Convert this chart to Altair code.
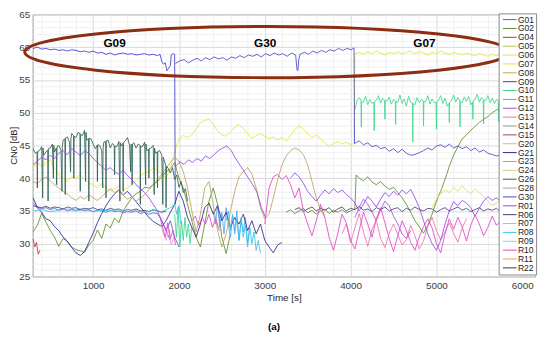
import altair as alt
import pandas as pd

# ---------------- legend order and colours ----------------
NAMES = ["G01", "G02", "G04", "G05", "G06", "G07", "G08", "G09", "G10", "G11",
         "G12", "G13", "G14", "G15", "G20", "G21", "G23", "G24", "G26", "G28",
         "G30", "R01", "R06", "R07", "R08", "R09", "R10", "R11", "R22"]
COLORS = ["#6a5acd", "#5b8c2a", "#b03a48", "#a8c84a", "#d4e06a", "#e6e632", "#c9a64f", "#3a3ad0", "#3ad88c", "#5aa0f0",
          "#a855d8", "#f070b0", "#7f9f7f", "#8a4a7a", "#c0c0a0", "#28288e", "#bca060", "#d8c888", "#2e5f52", "#a0a0a0",
          "#4848c8", "#9446ea", "#4a3a70", "#e0a0d0", "#34c4ea", "#7fe0d8", "#e044c4", "#e8a048", "#383850"]

# ---------------- series values ----------------
G09_V1 = [59.8, 60.0, 59.7, 59.8, 59.6, 59.7, 59.5, 59.6, 59.4, 59.6, 59.5, 59.3, 59.4, 59.2, 59.4, 59.1,
          59.2, 58.9, 59.1, 58.8, 59.0, 59.1, 58.9, 59.0, 58.8, 58.9, 59.0, 58.8, 58.9, 58.7]
G09_T2 = [1780, 1800, 1820, 1840, 1860, 1880, 1900, 1910, 1930, 1950, 1957]
G09_V2 = [58.9, 57.8, 57.4, 57.6, 56.4, 56.8, 57.2, 58.8, 59.0, 58.9, 36.0]

G30_V1 = [57.5, 57.9, 58.1, 57.6, 58.0, 58.3, 57.9, 58.4, 58.1, 58.5, 58.2, 58.4, 58.0, 58.5, 58.3,
          58.7, 58.4, 58.8, 58.6, 58.9, 58.5, 59.0, 58.7, 59.1, 58.8, 59.0, 58.6, 59.1, 58.8]
G30_T2 = [3375, 3385, 3395]
G30_V2 = [56.6, 56.4, 58.0]
G30_V3 = [58.9, 59.2, 58.9, 59.4, 59.1, 59.5, 59.2, 59.6, 59.4, 59.8, 59.5, 59.8, 59.6]
G30_T4 = [4040, 4046]
G30_V4 = [59.9, 45.3]
G30_V5 = [45.7, 45.1, 45.4, 44.8, 45.0, 44.5, 44.7, 44.1, 44.5, 43.9, 44.4, 43.8, 43.5, 43.6, 43.9,
          44.2, 44.6, 44.3, 44.9, 45.1, 44.7, 45.2, 44.6, 44.9, 44.5, 44.8, 44.2, 44.6, 44.0, 44.3,
          43.8, 43.6, 43.4, 43.5, 43.2, 43.6, 43.3, 43.4, 43.1, 43.5, 43.2, 43.4]

G07_V1 = [41.5, 42.5, 41.8, 42.3, 42.8, 41.5, 40.5, 40.0, 39.5, 40.2, 40.0, 40.5, 39.8, 39.3, 39.0, 38.5,
          39.2, 38.6, 38.0, 38.4, 38.8, 38.2, 38.5, 39.0, 39.6, 40.3, 40.8, 41.0, 41.5, 41.2, 40.6, 40.0,
          41.5, 44.0]
G07_V2 = [46.0, 46.5, 46.2, 46.6, 47.5, 48.5, 48.8, 49.0, 48.2, 47.2, 46.6, 46.4, 47.0, 47.8, 48.2,
          47.6, 46.8, 46.1, 46.5, 46.8, 46.4, 46.0, 46.3, 45.8, 46.2, 45.6, 46.5, 47.4, 48.0, 47.5,
          46.8, 46.2, 46.6, 46.0, 45.4, 44.9, 45.3, 45.6, 45.2, 45.5, 45.1]
G07_T3 = [4040, 4050]
G07_V3 = [45.3, 59.0]
G07_V4 = [59.2, 58.9, 59.3, 59.0, 59.4, 59.1, 58.8, 59.2, 59.0, 59.3, 58.9, 59.2, 59.4, 59.0, 59.3,
          59.1, 58.8, 59.2, 59.0, 59.4, 59.1, 58.9, 59.2, 59.0, 58.8, 59.1, 58.9, 58.7, 59.0, 58.8,
          58.6, 58.9, 58.7, 58.9, 58.6, 58.8, 58.5, 58.8, 58.6, 58.9, 58.7, 58.8]

G10_V1 = [34.5, 31.0, 35.5, 29.5, 33.5, 30.5, 34.0, 31.0, 33.0, 30.0, 32.5]
G10_PTS = [(4050, 50.5), (4075, 51.8), (4100, 52.3), (4121, 51.9), (4125, 47.8), (4129, 51.7), (4150, 51.6),
           (4175, 52.5), (4200, 51.2), (4225, 52.0), (4250, 51.4), (4271, 51.6), (4275, 47.2), (4279, 51.7),
           (4300, 51.9), (4325, 52.6), (4350, 51.5), (4375, 52.2), (4396, 51.9), (4400, 49.0), (4404, 51.8),
           (4425, 51.8), (4450, 52.4), (4475, 51.3), (4500, 52.0), (4521, 51.8), (4525, 48.2), (4529, 51.7),
           (4550, 51.6), (4575, 52.7), (4600, 51.4), (4625, 52.1), (4650, 51.0), (4675, 52.5), (4700, 51.6),
           (4721, 51.5), (4725, 45.5), (4729, 51.4), (4750, 51.2), (4775, 52.3), (4800, 51.5), (4825, 52.0),
           (4846, 51.8), (4850, 48.0), (4854, 51.7), (4875, 51.7), (4900, 52.6), (4925, 51.3), (4950, 52.1),
           (4975, 51.5), (4996, 51.6), (5000, 47.5), (5004, 51.7), (5025, 51.9), (5050, 52.6), (5075, 51.4),
           (5100, 52.2), (5125, 51.0), (5146, 51.4), (5150, 48.5), (5154, 51.6), (5175, 51.8), (5200, 52.7),
           (5225, 51.6), (5250, 52.3), (5271, 51.9), (5275, 47.8), (5279, 51.7), (5300, 51.5), (5325, 52.4),
           (5350, 51.7), (5375, 52.5), (5400, 51.2), (5421, 51.6), (5425, 49.0), (5429, 51.8), (5450, 52.0),
           (5475, 52.8), (5500, 51.6), (5525, 52.3), (5546, 52.0), (5550, 48.3), (5554, 51.8), (5575, 51.9),
           (5600, 52.6), (5625, 51.5), (5650, 52.2), (5675, 51.4), (5700, 52.0), (5721, 51.8), (5725, 48.6),
           (5729, 51.7), (5750, 51.8), (5775, 52.5), (5800, 51.6), (5825, 52.1), (5850, 51.3), (5875, 52.4),
           (5896, 52.0), (5900, 49.0), (5904, 51.9), (5925, 51.7), (5950, 52.3), (5975, 51.5), (6000, 52.0),
           (6025, 51.2), (6050, 52.2), (6071, 51.9), (6075, 48.5), (6079, 51.8), (6100, 51.6), (6125, 52.1),
           (6150, 51.7)]

G26_PTS = [(300, 44.5), (325, 43.8), (346, 44.0), (350, 38.5), (354, 44.1), (375, 44.2), (400, 44.8),
           (412, 37.0), (416, 44.6), (425, 43.5), (450, 44.0), (471, 44.3), (475, 36.5), (479, 44.5),
           (500, 44.6), (525, 45.2), (537, 40.0), (541, 45.0), (550, 44.0), (571, 44.6), (575, 39.0),
           (579, 44.8), (600, 45.0), (625, 44.3), (637, 38.0), (641, 44.8), (650, 45.8), (671, 46.0),
           (675, 37.5), (679, 46.1), (700, 46.3), (725, 45.5), (737, 41.0), (741, 46.0), (750, 46.8),
           (771, 46.5), (775, 40.0), (779, 46.4), (800, 46.2), (825, 47.0), (846, 46.8), (850, 38.0),
           (854, 46.7), (875, 46.5), (900, 47.3), (912, 39.5), (916, 47.0), (925, 45.8), (946, 46.0),
           (950, 36.5), (954, 46.1), (975, 46.0), (1000, 45.2), (1025, 44.5), (1046, 45.0), (1050, 39.5),
           (1054, 45.1), (1075, 45.0), (1100, 44.2), (1112, 38.5), (1116, 44.6), (1125, 45.5), (1146, 45.6),
           (1150, 37.0), (1154, 45.7), (1175, 45.8), (1200, 44.6), (1225, 45.3), (1246, 45.0), (1250, 40.5),
           (1254, 44.9), (1275, 44.8), (1300, 45.6), (1312, 36.5), (1316, 45.4), (1325, 44.9), (1346, 45.3),
           (1350, 38.0), (1354, 45.4), (1375, 45.7), (1400, 46.2), (1425, 45.0), (1437, 41.0), (1441, 45.2),
           (1450, 45.1), (1454, 39.0), (1458, 45.2), (1475, 45.4), (1500, 44.6), (1525, 45.2), (1546, 45.0),
           (1550, 36.0), (1554, 44.9), (1575, 44.8), (1600, 45.5), (1612, 39.0), (1616, 45.2), (1625, 44.2),
           (1646, 44.4), (1650, 40.0), (1654, 44.5), (1675, 44.6), (1700, 45.0), (1712, 37.5), (1716, 44.6),
           (1725, 43.8), (1746, 44.0), (1750, 38.5), (1754, 44.1), (1775, 44.2), (1800, 43.5), (1812, 36.0),
           (1816, 43.2), (1825, 42.8), (1846, 42.0), (1850, 35.5), (1854, 41.8), (1875, 41.5), (1900, 40.8),
           (1925, 41.6), (1950, 39.8), (1975, 40.5), (2000, 38.6), (2025, 39.5), (2050, 37.8), (2075, 38.4),
           (2100, 36.5)]

G02_V1 = [31.8, 32.8, 34.6, 33.3, 32.0, 31.0, 29.6, 30.8, 30.3, 29.5, 29.1, 28.9, 28.7, 29.8, 30.5,
          32.1, 30.8, 33.0, 32.4, 33.9, 33.2, 35.0, 36.0, 37.0, 37.6, 38.0, 38.6, 38.5, 39.0, 39.5,
          40.2, 41.0, 41.4, 42.4, 40.0, 38.5, 36.0, 33.5, 31.0, 29.5, 33.0, 36.5, 38.5, 36.0, 31.0,
          28.5, 31.5]
G02_V2 = [34.8, 35.2, 34.6, 35.0, 35.4, 34.7, 35.1, 34.5, 35.0, 35.3, 34.6, 35.1, 34.8, 35.2, 34.7,
          35.0, 35.3]
G02_T3 = [4065]
G02_V3 = [40.5]
G02_V4 = [40.0, 39.6, 40.2, 39.4, 39.0, 39.5, 38.8, 38.3, 38.6, 37.8, 37.0, 36.0, 34.8, 33.5, 32.6,
          31.6, 32.8, 34.5, 36.5, 38.0, 39.8, 41.8, 43.5, 44.8, 46.0, 46.6, 47.3, 47.9, 48.5, 49.0,
          49.4, 50.0, 50.4, 50.8, 51.2, 51.5, 51.8, 52.0, 52.3, 52.4, 52.6, 52.5]

G21_V = [37.0, 35.5, 34.8, 33.8, 33.5, 32.6, 32.0, 31.0, 30.4, 29.4, 28.6, 28.2, 28.8, 30.2, 31.6,
         33.2, 34.6, 35.8, 36.8, 37.6, 38.2, 37.4, 38.0, 37.2, 36.4, 35.6, 34.8, 34.0, 33.4, 33.0,
         32.6, 33.5, 34.8, 36.0, 38.0, 36.5, 34.0, 32.5, 31.0, 33.0, 35.5, 36.2, 34.5, 35.8, 33.5,
         34.8, 32.5, 34.0, 33.0, 34.5, 32.0, 33.5, 31.5, 33.0, 30.5, 29.5, 28.6, 29.8, 30.2]

R06_V1 = [35.8, 35.6, 35.5, 35.7, 35.4, 35.6, 35.5, 35.3, 35.6, 35.4, 35.5, 35.2, 35.4, 35.3, 35.5,
          35.2, 35.3, 35.1, 35.4, 35.2, 35.3, 35.0, 35.2, 35.1, 35.3, 35.0, 35.1, 34.9, 35.2, 35.0,
          34.8, 35.0]
R06_V2 = [35.2, 35.5, 34.9, 35.3, 35.6, 35.0, 35.4, 35.1, 35.5, 34.8, 35.3, 35.6, 35.0, 35.4, 35.2,
          35.7, 35.1, 35.3, 34.9, 35.5, 35.2, 35.6, 35.0, 35.3, 35.5, 34.9, 35.4, 35.1, 35.6, 35.2,
          35.0, 35.4, 35.3, 34.8, 35.2, 35.5, 35.0, 35.3, 35.6, 35.1, 35.4, 34.9, 35.2, 35.5, 35.0,
          35.3, 35.1, 35.4, 34.8, 35.2, 35.0, 35.3, 34.9, 35.1, 35.4, 35.0, 35.2]

G01_V = [36.2, 35.6, 35.3, 35.5, 35.2, 35.4, 35.1, 35.3, 35.0, 35.2, 35.1, 35.3, 35.0, 35.2, 34.9,
         35.1, 35.0, 34.8, 35.1, 34.9, 35.0, 34.7, 34.9, 34.8, 35.0, 34.6, 34.8, 34.5, 34.7, 34.6,
         33.5, 32.0, 33.5, 31.0, 29.5]

R08_V1 = [35.0, 35.2, 34.9, 35.1, 35.3, 35.0, 35.2, 34.9, 35.1, 35.0, 35.2, 34.9, 35.0, 34.8, 35.1,
          34.9, 35.5]
R08_V2 = [36.0, 34.5, 35.8, 33.0]
R08_V3 = [33.5, 35.0, 32.0, 34.5, 31.5, 33.8, 30.5, 34.0, 31.0, 33.0, 29.5, 32.5, 30.0, 31.8, 29.0,
          30.5, 28.5]

G11_V = [35.0, 33.0, 36.0, 32.5, 34.8, 31.5, 35.5, 33.0, 31.0, 34.2, 32.0, 35.0, 30.5, 33.5, 31.8,
         34.0, 30.0, 32.5]

R01_V1 = [42.0, 42.6, 43.2, 42.8, 43.5, 43.0, 43.8, 44.2, 43.6, 44.5, 44.0, 43.4, 44.2, 43.8, 43.0,
          42.4, 41.8, 41.2, 41.6, 41.0, 40.6, 41.2, 40.4, 39.8, 39.0, 38.4, 37.8, 37.0, 36.0, 35.0,
          33.5, 32.0, 30.5]
R01_V2 = [41.8, 42.5, 42.1, 42.8, 42.4, 43.0, 42.6, 43.4, 43.0, 43.6, 44.2, 44.6, 44.9, 44.2, 43.0,
          42.0, 41.0, 40.0, 39.0, 37.8, 35.5, 34.0]
R01_V3 = [40.0, 40.8, 40.2, 39.2, 38.0, 37.2, 36.5, 37.4, 38.2, 37.6, 38.4, 37.8, 38.2, 37.5, 37.0,
          36.2, 35.0, 36.0, 37.2, 36.5, 35.6, 36.8, 37.8, 37.2, 38.0, 37.4, 38.2, 37.6, 38.3, 37.0,
          35.5, 33.5, 31.5, 30.0, 29.0, 30.5, 33.0, 35.0, 36.4, 35.8, 36.6, 36.2, 35.5, 34.2, 35.4,
          36.5, 37.2, 36.6, 37.0, 36.4, 36.8, 36.3, 37.0, 36.5, 36.8, 36.2, 36.6, 36.9]

R10_V1 = [34.0, 32.5, 31.0, 33.2, 30.8, 32.0, 29.8]
R10_V2 = [33.5, 34.2, 32.8, 34.0, 33.0, 34.5, 32.5, 33.8, 32.0]
R10_V3 = [33.0, 38.5, 40.2, 40.6, 39.8, 40.4, 39.0, 37.0, 38.5, 35.0, 33.0, 31.2, 33.5, 36.0, 34.0,
          31.0, 29.0, 31.5, 34.5, 33.2, 30.5, 29.2, 32.0, 34.8, 33.0, 31.0, 33.8, 35.5, 33.2, 30.8,
          28.8, 31.2, 33.5, 32.0, 30.2, 29.0, 31.0, 32.6, 33.8, 32.4, 30.0, 28.6, 31.5, 33.8, 32.2,
          34.0, 32.6, 30.4, 32.8, 34.4, 33.0, 31.2, 32.5, 34.2, 32.8, 33.6, 31.8, 32.4, 33.8, 32.2,
          31.0, 32.6, 33.4, 32.0]

G23_V = [39.5, 39.2, 39.8, 40.2, 39.6, 39.0, 38.5, 38.0, 37.6, 37.0, 36.6, 37.2, 36.8, 37.5, 37.0,
         36.6, 37.2, 37.8, 38.4, 37.8, 38.2, 37.4, 36.8, 37.2, 36.5, 36.9, 37.5, 38.2, 39.0, 39.8,
         40.6, 41.5, 42.4, 43.2, 42.6, 41.0, 38.5, 35.0, 31.8, 34.5, 38.5, 39.5, 36.0, 32.0, 29.5,
         31.5, 35.0, 38.0, 40.2, 41.0, 41.6, 40.6, 38.5, 35.5, 33.8, 34.5, 37.0, 39.8, 42.0, 43.4,
         44.2, 44.6, 44.3, 43.6, 42.0, 39.5, 37.0, 35.2, 34.0]

G06_V = [35.5, 36.8, 37.6, 38.2, 37.8, 38.6, 38.0, 38.8, 38.2, 37.6, 38.4, 37.8, 37.2, 36.5, 35.8,
         36.2, 36.8, 37.4, 36.9, 37.5, 37.0, 37.6, 37.2, 36.8, 37.3]

G12_V = [34.0, 35.5, 36.8, 36.0, 34.8, 33.5, 35.2, 36.5, 35.8, 34.2, 33.0, 31.5, 30.8, 32.0]

G13_V = [31.5, 33.0, 30.2, 32.4, 34.6, 31.8, 29.6, 32.2, 33.6, 30.8, 29.4, 31.6, 33.0, 31.4, 29.8,
         30.6, 32.8, 31.2, 29.2, 30.4, 32.6, 34.0, 32.0, 30.6, 31.8, 33.2, 31.6, 30.2, 32.4, 33.8]

G04_V = [30.8, 29.5, 30.2, 28.4, 29.0]
R07_V = [33.0, 31.5, 30.5, 32.2, 29.8, 31.0]

# annotations
ANNOT_T = [1250, 3005, 4860]
ANNOT_V = [60.6, 60.6, 60.6]
ANNOT_TXT = ["G09", "G30", "G07"]
ELLIPSE_T = [3027]
ELLIPSE_V = [59.25]

X_MINOR = list(range(400, 6001, 200))
Y_MINOR = list(range(25, 66, 1))


def reg(start, step, vals):
    return [(start + step * i, v) for i, v in enumerate(vals)]


def irr(times, vals):
    return list(zip(times, vals))


PATHS = [
    ("G01", [reg(300, 50, G01_V)]),
    ("G02", [reg(300, 50, G02_V1)]),
    ("G02", [reg(3250, 50, G02_V2), irr(G02_T3, G02_V3), reg(4100, 50, G02_V4)]),
    ("G04", [reg(300, 20, G04_V)]),
    ("G06", [reg(4950, 50, G06_V)]),
    ("G07", [reg(300, 50, G07_V1), reg(2000, 50, G07_V2), irr(G07_T3, G07_V3), reg(4100, 50, G07_V4)]),
    ("G09", [reg(300, 50, G09_V1), irr(G09_T2, G09_V2)]),
    ("G10", [reg(1950, 20, G10_V1)]),
    ("G10", [G10_PTS]),
    ("G11", [reg(2400, 25, G11_V)]),
    ("G12", [reg(4050, 50, G12_V)]),
    ("G13", [reg(3900, 50, G13_V)]),
    ("G21", [reg(300, 50, G21_V)]),
    ("G23", [reg(300, 50, G23_V)]),
    ("G26", [G26_PTS]),
    ("G30", [reg(1960, 50, G30_V1), irr(G30_T2, G30_V2), reg(3410, 50, G30_V3),
             irr(G30_T4, G30_V4), reg(4100, 50, G30_V5)]),
    ("R01", [reg(300, 50, R01_V1)]),
    ("R01", [reg(1960, 50, R01_V2)]),
    ("R01", [reg(3300, 50, R01_V3)]),
    ("R06", [reg(300, 50, R06_V1)]),
    ("R06", [reg(3350, 50, R06_V2)]),
    ("R07", [reg(1790, 30, R07_V)]),
    ("R08", [reg(300, 100, R08_V1), reg(1950, 25, R08_V2)]),
    ("R08", [reg(2550, 25, R08_V3)]),
    ("R10", [reg(1780, 30, R10_V1)]),
    ("R10", [reg(2150, 40, R10_V2)]),
    ("R10", [reg(3000, 50, R10_V3)]),
]

rows = []
for k, (name, chunks) in enumerate(PATHS):
    order = NAMES.index(name)
    for ch in chunks:
        for t, v in ch:
            rows.append({"s": name, "p": f"{order:02d}_{k:02d}", "t": t, "v": v})
df = pd.DataFrame(rows)

FONT = "Liberation Sans"

x_enc = alt.X("t:Q", title="Time [s]",
              scale=alt.Scale(domain=[295, 6150], nice=False, zero=False),
              axis=alt.Axis(values=X_MINOR,
                            labelExpr="datum.value % 1000 === 0 ? '' + datum.value : ''",
                            gridColor={"condition": {"test": "datum.value % 1000 === 0", "value": "#d8d8d8"},
                                       "value": "#f0f0f0"},
                            domain=False, ticks=False, labelPadding=4, titlePadding=2))
y_enc = alt.Y("v:Q", title="CN0 [dB]",
              scale=alt.Scale(domain=[25, 65], nice=False, zero=False),
              axis=alt.Axis(values=Y_MINOR,
                            labelExpr="datum.value % 5 === 0 ? '' + datum.value : ''",
                            gridColor={"condition": {"test": "datum.value % 5 === 0", "value": "#d8d8d8"},
                                       "value": "#f0f0f0"},
                            domain=False, ticks=False, labelPadding=3, titlePadding=0,
                            titleFontSize=9.5))

lines = alt.Chart(df).mark_line(strokeWidth=0.85, clip=True).encode(
    x=x_enc, y=y_enc,
    color=alt.Color("s:N", scale=alt.Scale(domain=NAMES, range=COLORS),
                    legend=alt.Legend(orient="none", legendX=473, legendY=-1, title=None,
                                      symbolType="M-3.5,0H3.5", symbolSize=16, symbolStrokeWidth=1,
                                      symbolOffset=5, labelOffset=4,
                                      labelFontSize=8.6, labelFont=FONT, labelColor="#222222",
                                      rowPadding=-1.4, padding=2, fillColor="white", strokeColor="#8a8a8a",
                                      labelLimit=40)),
    detail="p:N",
    order=alt.Order("t:Q"),
)

ELLIPSE_PATH = ("M-1,0C-1,-0.0584,-0.5523,-0.1057,0,-0.1057C0.5523,-0.1057,1,-0.0584,1,0"
                "C1,0.0584,0.5523,0.1057,0,0.1057C-0.5523,0.1057,-1,0.0584,-1,0Z")
ell_df = pd.DataFrame({"t": ELLIPSE_T, "v": ELLIPSE_V})
ellipse = alt.Chart(ell_df).mark_point(shape=ELLIPSE_PATH, size=242064, filled=False, strokeWidth=3,
                                       color="#8c2c10", opacity=1).encode(x=x_enc, y=y_enc)

ann_df = pd.DataFrame({"t": ANNOT_T, "v": ANNOT_V, "txt": ANNOT_TXT})
labels = alt.Chart(ann_df).mark_text(font=FONT, fontSize=12, fontWeight="bold", color="black",
                                     baseline="middle", align="center").encode(x=x_enc, y=y_enc, text="txt:N")

chart = alt.layer(lines, ellipse, labels).properties(
    width=510, height=266,
    padding={"left": 25, "top": 4, "right": 7, "bottom": 59},
    autosize=alt.AutoSizeParams(type="none"),
    title=alt.TitleParams("(a)", orient="bottom", anchor="middle", fontSize=10, fontWeight="bold",
                          font=FONT, color="black", offset=20, dx=-10),
).configure_view(stroke="#9a9a9a", strokeWidth=1).configure_axis(
    labelFont=FONT, labelFontSize=10, labelColor="#404040",
    titleFont=FONT, titleFontSize=10, titleFontWeight="normal", titleColor="#262626",
)

chart.save("out.html", embed_options={"renderer": "svg", "actions": False})
